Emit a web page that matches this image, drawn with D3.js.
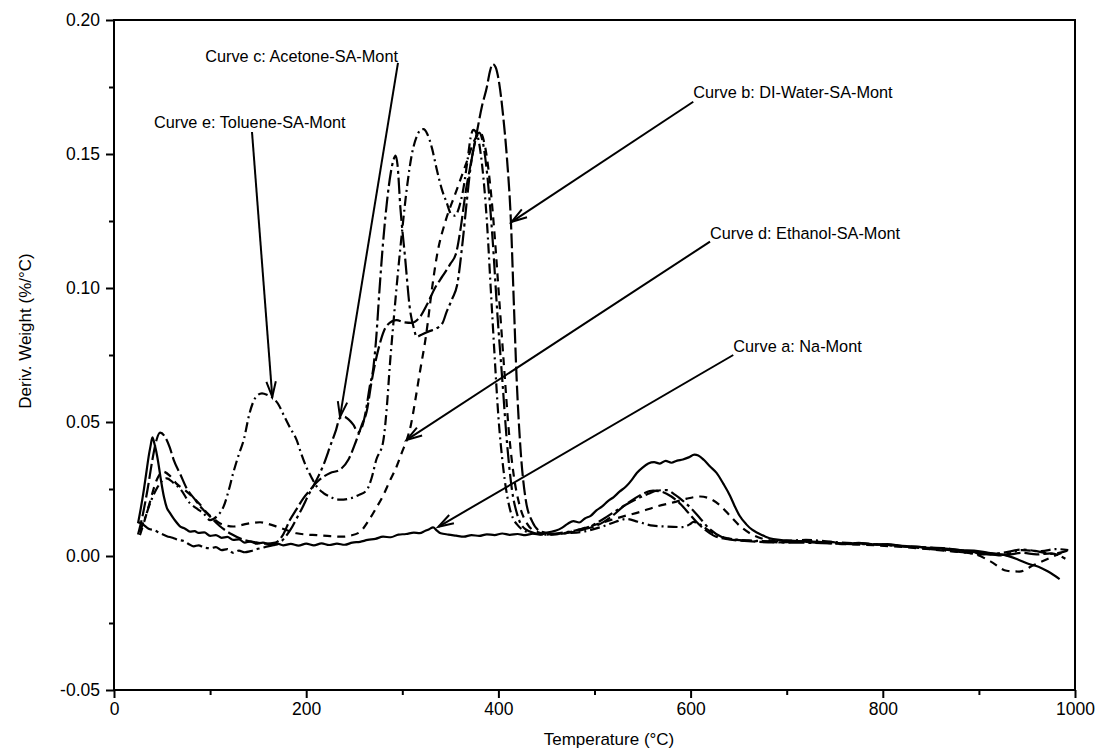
<!DOCTYPE html>
<html>
<head>
<meta charset="utf-8">
<script src="https://cdn.jsdelivr.net/npm/d3@7"></script>
<style>
  body { margin: 0; background: #fff; }
  svg { display: block; font-family: "Liberation Sans", Arial, sans-serif; }
</style>
</head>
<body>
<svg id="chart"></svg>
<script>
// temperature (°C) / deriv. weight (%/°C) pairs
const naMont = [[25,0.0122],[28,0.018],[31,0.0246],[34,0.032],[36,0.037],[38,0.041],[40,0.0443],[42,0.042],[44,0.039],[46,0.035],[49,0.028],[52,0.022],[55,0.018],[58,0.0162],[63,0.0135],[69,0.011],[74,0.0102],[79,0.0091],[84,0.0093],[88,0.0086],[94,0.0088],[100,0.0075],[106,0.0078],[112,0.0068],[118,0.0071],[124,0.0060],[130,0.0062],[136,0.0050],[142,0.0054],[148,0.0046],[155,0.0050],[162,0.0043],[169,0.0047],[176,0.0040],[184,0.0045],[192,0.0039],[200,0.0046],[208,0.0040],[216,0.0047],[224,0.0041],[232,0.0046],[240,0.0042],[248,0.0050],[256,0.0053],[264,0.0060],[272,0.0064],[280,0.0072],[288,0.0070],[296,0.0080],[304,0.0082],[312,0.0087],[318,0.0085],[324,0.0094],[328,0.0100],[332,0.0107],[336,0.0095],[340,0.0085],[348,0.0080],[356,0.0076],[364,0.0072],[372,0.0078],[380,0.0075],[388,0.0081],[396,0.0078],[404,0.0084],[412,0.0079],[420,0.0082],[428,0.0078],[436,0.0083],[444,0.0080],[452,0.0088],[460,0.0095],[466,0.0105],[472,0.0120],[478,0.0130],[484,0.0125],[490,0.0140],[496,0.0150],[502,0.0170],[508,0.0185],[514,0.0205],[520,0.0220],[526,0.0240],[533,0.0260],[539,0.0285],[544,0.0310],[550,0.0330],[556,0.0345],[562,0.0350],[568,0.0345],[574,0.0355],[580,0.0348],[586,0.0356],[592,0.0360],[598,0.0368],[604,0.0378],[608,0.0375],[614,0.0358],[620,0.0335],[627,0.0310],[634,0.0270],[641,0.0225],[646,0.0185],[651,0.0150],[658,0.0118],[664,0.0098],[670,0.0086],[678,0.0072],[686,0.0063],[700,0.0058],[715,0.0055],[730,0.0050],[745,0.0053],[760,0.0046],[775,0.0049],[790,0.0043],[805,0.0044],[820,0.0037],[835,0.0035],[850,0.0030],[865,0.0028],[880,0.0022],[895,0.0020],[910,0.0012],[925,0.0005],[940,-0.0012],[952,-0.0030],[962,-0.0040],[972,-0.0058],[984,-0.0086]];

const diWater = [[25,0.008],[30,0.0155],[35,0.025],[40,0.036],[44,0.043],[48,0.046],[53,0.0445],[58,0.0405],[62,0.036],[69,0.0305],[76,0.0250],[84,0.0212],[90,0.0184],[100,0.0147],[110,0.0112],[122,0.0082],[134,0.0062],[146,0.0052],[158,0.0046],[168,0.0050],[176,0.0080],[183,0.0134],[190,0.0175],[197,0.0215],[204,0.0246],[211,0.0275],[218,0.0296],[225,0.0310],[235,0.0322],[244,0.0360],[252,0.0430],[258,0.0490],[263,0.0540],[268,0.0650],[275,0.0770],[284,0.0860],[294,0.0880],[302,0.0872],[310,0.0870],[318,0.0890],[326,0.0940],[334,0.1000],[342,0.1045],[350,0.1090],[356,0.1130],[361,0.1230],[366,0.1360],[370,0.1440],[377,0.1570],[383,0.1680],[388,0.1750],[391,0.1805],[394,0.1836],[397,0.1825],[401,0.1760],[405,0.1640],[409,0.1480],[413,0.1250],[416,0.0950],[419,0.0660],[423,0.0400],[428,0.0220],[435,0.0130],[445,0.0090],[460,0.0082],[475,0.0088],[490,0.0100],[505,0.0118],[518,0.0148],[530,0.0185],[542,0.0215],[552,0.0235],[561,0.0244],[570,0.0240],[580,0.0222],[590,0.0192],[598,0.0160],[606,0.0128],[615,0.0098],[624,0.0076],[640,0.0062],[660,0.0055],[690,0.0051],[720,0.0056],[750,0.0048],[780,0.0046],[810,0.0040],[840,0.0033],[870,0.0027],[900,0.0012],[925,0.0002],[945,0.0012],[960,0.0006],[975,0.0010],[990,-0.0010]];

const acetone = [[25,0.0127],[30,0.0118],[36,0.0102],[42,0.0096],[48,0.0085],[55,0.0074],[61,0.0068],[67,0.0060],[73,0.0055],[78,0.0044],[83,0.0036],[88,0.0040],[94,0.0031],[100,0.0029],[106,0.0033],[112,0.0022],[118,0.0026],[124,0.0012],[130,0.0020],[136,0.0014],[142,0.0018],[148,0.0025],[154,0.0030],[160,0.0036],[166,0.0040],[172,0.0048],[178,0.0070],[184,0.0100],[190,0.0140],[196,0.0180],[202,0.0225],[208,0.0265],[213,0.0300],[218,0.0340],[225,0.0410],[231,0.0470],[235,0.0515],[239,0.0520],[244,0.0510],[249,0.0490],[254,0.0462],[258,0.0480],[262,0.0540],[266,0.0630],[270,0.0706],[273,0.0820],[276,0.0980],[280,0.1170],[284,0.1320],[288,0.1430],[291,0.1480],[293,0.1494],[295,0.1460],[298,0.1300],[303,0.1110],[308,0.0920],[312,0.0850],[315,0.0818],[320,0.0826],[329,0.0840],[336,0.0850],[342,0.0870],[346,0.0910],[352,0.0960],[357,0.1010],[363,0.1180],[367,0.1320],[371,0.1450],[376,0.1550],[380,0.1580],[384,0.1540],[389,0.1400],[394,0.1180],[399,0.0900],[404,0.0660],[409,0.0420],[414,0.0250],[420,0.0150],[428,0.0100],[438,0.0085],[450,0.0080],[465,0.0086],[480,0.0095],[495,0.0110],[510,0.0140],[522,0.0168],[533,0.0192],[545,0.0215],[556,0.0232],[565,0.0244],[575,0.0246],[584,0.0228],[592,0.0206],[600,0.0180],[610,0.0140],[620,0.0100],[632,0.0072],[648,0.0060],[670,0.0055],[700,0.0050],[730,0.0049],[760,0.0045],[790,0.0043],[820,0.0036],[850,0.0026],[880,0.0015],[905,0.0006],[925,0.0012],[945,0.0024],[960,0.0018],[975,0.0008],[992,0.0020]];

const ethanol = [[27,0.0078],[32,0.0135],[37,0.0197],[44,0.0280],[51,0.0315],[58,0.0300],[65,0.0270],[74,0.0245],[82,0.0220],[90,0.0190],[97,0.0160],[104,0.0138],[110,0.0122],[117,0.0113],[124,0.0110],[131,0.0114],[138,0.0120],[145,0.0124],[152,0.0126],[160,0.0120],[169,0.0110],[180,0.0096],[190,0.0085],[200,0.0080],[211,0.0078],[225,0.0074],[238,0.0072],[246,0.0076],[256,0.0090],[266,0.0138],[273,0.0180],[280,0.0225],[287,0.0280],[294,0.0333],[300,0.0390],[305,0.0437],[309,0.0490],[313,0.0570],[318,0.0680],[325,0.0830],[331,0.1000],[336,0.1120],[345,0.1250],[355,0.1350],[366,0.1460],[375,0.1550],[381,0.1580],[386,0.1530],[391,0.1400],[396,0.1200],[401,0.0950],[406,0.0700],[411,0.0460],[416,0.0300],[422,0.0190],[430,0.0120],[440,0.0090],[455,0.0080],[470,0.0086],[490,0.0105],[513,0.0130],[530,0.0148],[547,0.0164],[565,0.0185],[582,0.0200],[596,0.0214],[610,0.0222],[620,0.0214],[631,0.0188],[641,0.0150],[651,0.0113],[663,0.0082],[680,0.0060],[700,0.0052],[725,0.0054],[750,0.0046],[780,0.0042],[810,0.0036],[840,0.0028],[870,0.0018],[895,0.0008],[912,-0.0020],[929,-0.0055],[942,-0.0058],[957,-0.0034],[972,-0.0010],[990,0.0018]];

const toluene = [[27,0.009],[33,0.0150],[39,0.0210],[45,0.0255],[50,0.0280],[55,0.0290],[62,0.0272],[69,0.0250],[79,0.0197],[87,0.0175],[93,0.0160],[100,0.0134],[107,0.0148],[114,0.0184],[119,0.0240],[124,0.0309],[130,0.0380],[135,0.0433],[141,0.0532],[148,0.0595],[154,0.0607],[160,0.0600],[166,0.0588],[172,0.0560],[176,0.0530],[183,0.0480],[190,0.0433],[195,0.0380],[200,0.0333],[206,0.0290],[211,0.0259],[218,0.0235],[225,0.0221],[235,0.0210],[246,0.0215],[255,0.0228],[263,0.0246],[268,0.0290],[273,0.0360],[280,0.0425],[284,0.0560],[287,0.0710],[291,0.0880],[295,0.1040],[300,0.1220],[305,0.1380],[310,0.1500],[315,0.1565],[319,0.1590],[322,0.1593],[326,0.1575],[331,0.1520],[336,0.1440],[341,0.1370],[346,0.1320],[351,0.1275],[355,0.1270],[359,0.1300],[363,0.1360],[368,0.1480],[371,0.1560],[374,0.1590],[378,0.1570],[383,0.1460],[388,0.1250],[392,0.1000],[396,0.0750],[400,0.0520],[405,0.0330],[411,0.0190],[420,0.0115],[432,0.0088],[450,0.0080],[470,0.0085],[490,0.0092],[510,0.0112],[522,0.0128],[533,0.0138],[545,0.0128],[561,0.0113],[575,0.0110],[592,0.0108],[599,0.0118],[603,0.0127],[608,0.0122],[615,0.0105],[625,0.0082],[640,0.0065],[660,0.0058],[690,0.0055],[720,0.0060],[750,0.0052],[780,0.0046],[810,0.0040],[840,0.0031],[870,0.0022],[900,0.0010],[925,0.0004],[945,0.0022],[965,0.0018],[980,0.0026],[993,0.0022]];

const xTicks = [0, 200, 400, 600, 800, 1000];
const yTicks = [-0.05, 0.00, 0.05, 0.10, 0.15, 0.20];

// annotation: text anchor [T, v], arrow from [T, v] to tip [T, v]
const notes = [
  {text: "Curve c: Acetone-SA-Mont", at: [295.5, 0.1843], anchor: "end", from: [295.5, 0.1840], to: [235.2, 0.0519]},
  {text: "Curve e: Toluene-SA-Mont", at: [41.6, 0.1597], anchor: "start", from: [143.6, 0.1582], to: [164.7, 0.0594]},
  {text: "Curve b: DI-Water-SA-Mont", at: [602.8, 0.1708], anchor: "start", from: [602.8, 0.1695], to: [413.8, 0.1247]},
  {text: "Curve d: Ethanol-SA-Mont", at: [620.2, 0.1182], anchor: "start", from: [620.2, 0.1173], to: [304.6, 0.0433]},
  {text: "Curve a: Na-Mont", at: [644.4, 0.0762], anchor: "start", from: [644.4, 0.0750], to: [337.5, 0.0109]}
];

const width = 1097;
const height = 752;
const svg = d3.select("#chart")
              .attr("width", width)
              .attr("height", height);

const x = d3.scaleLinear().domain([0, 1000]).range([114, 1075]);
const y = d3.scaleLinear().domain([-0.05, 0.20]).range([690, 20]);

const series = [
  {data: naMont,  dash: null},
  {data: diWater, dash: "15,4"},
  {data: acetone, dash: "16,4,3,4"},
  {data: ethanol, dash: "8,6"},
  {data: toluene, dash: "10,4,2,4"}
];

const line = d3.line()
  .x(d => x(d[0]))
  .y(d => y(d[1]))
  .curve(d3.curveMonotoneX);

svg.append("g")
  .selectAll("path")
  .data(series)
  .enter()
  .append("path")
  .attr("d", s => line(s.data))
  .attr("fill", "none")
  .attr("stroke", "#000")
  .attr("stroke-width", 2.2)
  .attr("stroke-dasharray", s => s.dash);

// frame
svg.append("rect")
  .attr("x", x(0)).attr("y", y(0.20))
  .attr("width", x(1000) - x(0)).attr("height", y(-0.05) - y(0.20))
  .attr("fill", "none").attr("stroke", "#000").attr("stroke-width", 2);

// minor ticks
const xMinor = d3.range(100, 1000, 200);
const yMinor = [-0.025, 0.025, 0.075, 0.125, 0.175];
svg.append("g")
  .attr("transform", `translate(0,${y(-0.05)})`)
  .call(d3.axisBottom(x).tickValues(xMinor).tickSize(5).tickFormat(""))
  .call(g => g.select(".domain").remove())
  .selectAll("line").attr("stroke-width", 2);
svg.append("g")
  .attr("transform", `translate(${x(0)},0)`)
  .call(d3.axisLeft(y).tickValues(yMinor).tickSize(5).tickFormat(""))
  .call(g => g.select(".domain").remove())
  .selectAll("line").attr("stroke-width", 2);

// major ticks
const xAxis = svg.append("g")
  .attr("transform", `translate(0,${y(-0.05)})`)
  .call(d3.axisBottom(x).tickValues(xTicks).tickSize(8).tickPadding(5).tickFormat(d => d));
xAxis.select(".domain").remove();
xAxis.selectAll("line").attr("stroke-width", 2);
xAxis.selectAll("text").attr("font-size", 17.5).attr("fill", "#000")
  .style("font-family", "'Liberation Sans', Arial, sans-serif");

const yAxis = svg.append("g")
  .attr("transform", `translate(${x(0)},0)`)
  .call(d3.axisLeft(y).tickValues(yTicks).tickSize(8).tickPadding(6).tickFormat(d => d.toFixed(2)));
yAxis.select(".domain").remove();
yAxis.selectAll("line").attr("stroke-width", 2);
yAxis.selectAll("text").attr("font-size", 17.5).attr("fill", "#000")
  .style("font-family", "'Liberation Sans', Arial, sans-serif");

// axis titles
svg.append("text")
  .attr("x", 609).attr("y", 745)
  .attr("text-anchor", "middle")
  .attr("font-size", 17)
  .text("Temperature (°C)");

svg.append("text")
  .attr("transform", "translate(31,331) rotate(-90)")
  .attr("text-anchor", "middle")
  .attr("font-size", 17)
  .text("Deriv. Weight (%/°C)");

// annotations with open arrow heads
const note = svg.append("g").selectAll("g").data(notes).enter().append("g");

note.append("text")
  .attr("x", n => x(n.at[0]))
  .attr("y", n => y(n.at[1]))
  .attr("text-anchor", n => n.anchor)
  .attr("font-size", 16.3)
  .text(n => n.text);

note.append("line")
  .attr("x1", n => x(n.from[0])).attr("y1", n => y(n.from[1]))
  .attr("x2", n => x(n.to[0])).attr("y2", n => y(n.to[1]))
  .attr("stroke", "#000").attr("stroke-width", 2);

note.append("path")
  .attr("d", n => {
    const x1 = x(n.from[0]), y1 = y(n.from[1]);
    const x2 = x(n.to[0]), y2 = y(n.to[1]);
    const a = Math.atan2(y1 - y2, x1 - x2);
    const len = 16, spread = 0.3;
    const p1 = [x2 + len * Math.cos(a + spread), y2 + len * Math.sin(a + spread)];
    const p2 = [x2 + len * Math.cos(a - spread), y2 + len * Math.sin(a - spread)];
    return `M${p1[0]},${p1[1]}L${x2},${y2}L${p2[0]},${p2[1]}`;
  })
  .attr("fill", "none")
  .attr("stroke", "#000")
  .attr("stroke-width", 2);
</script>
</body>
</html>
